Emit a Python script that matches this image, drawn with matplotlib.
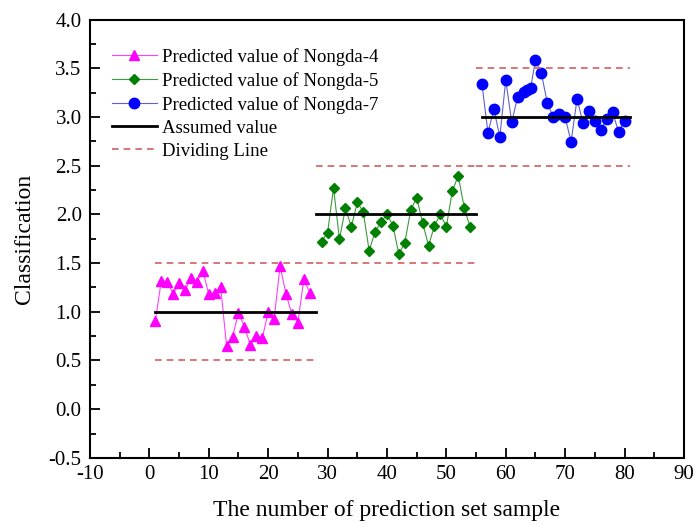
import matplotlib
matplotlib.use("Agg")
import matplotlib.pyplot as plt
from matplotlib.ticker import MultipleLocator, FormatStrFormatter

plt.rcParams['font.family'] = ['Liberation Serif', 'DejaVu Serif']
plt.rcParams['axes.unicode_minus'] = False

# Nongda-4
x4 = list(range(1, 28))
y4 = [0.906, 1.316, 1.309, 1.183, 1.296, 1.224, 1.350, 1.309, 1.422, 1.180,
      1.196, 1.252, 0.649, 0.744, 0.991, 0.847, 0.659, 0.752, 0.728, 0.995,
      0.926, 1.470, 1.183, 0.974, 0.888, 1.334, 1.196]
# Nongda-5
x5 = list(range(29, 55))
y5 = [1.720, 1.812, 2.274, 1.744, 2.063, 1.874, 2.124, 2.028, 1.627, 1.822,
      1.919, 2.001, 1.884, 1.593, 1.709, 2.045, 2.171, 1.915, 1.679, 1.884,
      2.001, 1.874, 2.240, 2.397, 2.069, 1.868]
# Nongda-7
x7 = [56, 57, 58, 59, 60, 61, 62, 63, 63.6, 64.2, 65, 66, 67, 68, 69, 70,
      71, 72, 73, 74, 75, 76, 77, 78, 79, 80]
y7 = [3.336, 2.839, 3.079, 2.798, 3.380, 2.946, 3.208, 3.254, 3.277, 3.301,
      3.585, 3.449, 3.141, 3.003, 3.028, 2.997, 2.746, 3.185, 2.941, 3.062,
      2.962, 2.867, 2.979, 3.048, 2.843, 2.962]

# Assumed value segments
assumed_val = [1, 2, 3]
assumed_start = [1, 28, 56]
assumed_end = [28, 55, 81]
# Dividing line segments
div_lo = [0.5, 1.5, 2.5]
div_hi = [1.5, 2.5, 3.5]
div_start = [1, 28, 55]
div_end = [28, 55, 81]

labels = ['Predicted value of Nongda-4', 'Predicted value of Nongda-5',
          'Predicted value of Nongda-7', 'Assumed value', 'Dividing Line']

fig = plt.figure(figsize=(6.95, 5.26), dpi=100)
ax = fig.add_axes([0.1295, 0.1295, 0.8546, 0.8332])

h4, = ax.plot(x4, y4, color='#FF40FF', lw=0.8, marker='^', ms=7.5, mfc='#FF00FF', mec='#FF00FF')
h5, = ax.plot(x5, y5, color='#3C9A3C', lw=0.8, marker='D', ms=5.5, mfc='#008000', mec='#008000')
h7, = ax.plot(x7, y7, color='#6060D0', lw=0.8, marker='o', ms=7.5, mfc='#0000FF', mec='#0000FF')

for v, s, e in zip(assumed_val, assumed_start, assumed_end):
    ha, = ax.plot([s, e], [v, v], color='black', lw=2)
for lo, hi, s, e in zip(div_lo, div_hi, div_start, div_end):
    hd, = ax.plot([s, e], [lo, lo], color='#D06060', lw=1.2, ls=(0, (4, 3)))
    ax.plot([s, e], [hi, hi], color='#D06060', lw=1.2, ls=(0, (4, 3)))

ax.set_xlim(-10, 90)
ax.set_ylim(-0.5, 4.0)
ax.xaxis.set_major_locator(MultipleLocator(10))
ax.xaxis.set_minor_locator(MultipleLocator(5))
ax.yaxis.set_major_locator(MultipleLocator(0.5))
ax.yaxis.set_minor_locator(MultipleLocator(0.25))
ax.yaxis.set_major_formatter(FormatStrFormatter('%.1f'))
ax.tick_params(which='both', direction='in', top=False, right=False, labelsize=15)
ax.tick_params(which='major', length=7, width=1.3)
ax.tick_params(axis='y', which='major', pad=6)
ax.tick_params(axis='x', which='major', pad=5)
ax.tick_params(which='minor', length=4, width=1.3)
for sp in ax.spines.values():
    sp.set_linewidth(1.5)

ax.set_xlabel('The number of prediction set sample', fontsize=17, labelpad=12)
ax.set_ylabel('Classification', fontsize=17, labelpad=10)

leg = ax.legend([h4, h5, h7, ha, hd], labels, loc='upper left',
                bbox_to_anchor=(0.037, 0.935), frameon=False, fontsize=13.5,
                borderpad=0, borderaxespad=0,
                handlelength=2.4, handletextpad=0.27, labelspacing=0.32)

fig.savefig('out.png', dpi=100)
